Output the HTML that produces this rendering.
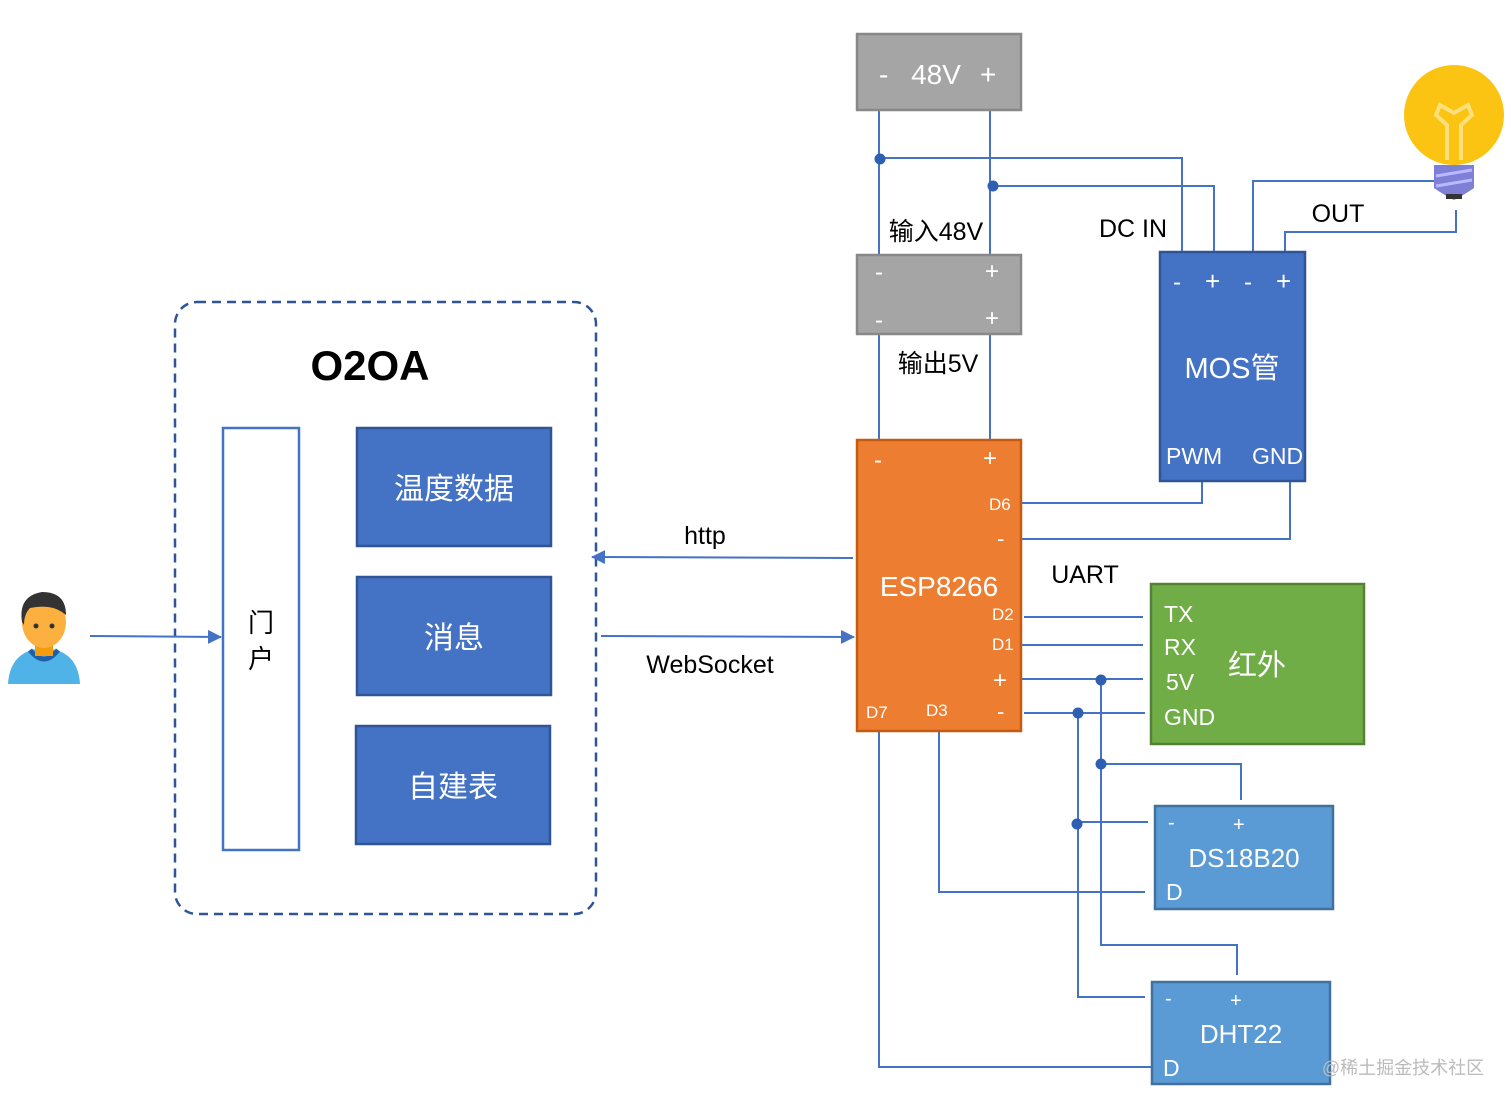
<!DOCTYPE html>
<html><head><meta charset="utf-8"><style>
body{margin:0;background:#fff;}
svg{display:block}
text{font-family:"Liberation Sans","Noto Sans CJK SC",sans-serif;}
</style></head><body>
<svg width="1512" height="1106" viewBox="0 0 1512 1106" xmlns="http://www.w3.org/2000/svg">
<defs>
<marker id="ar" markerWidth="14" markerHeight="14" refX="13" refY="7" orient="auto" markerUnits="userSpaceOnUse" viewBox="0 0 14 14"><path d="M0,0 L14,7 L0,14z" fill="#4472c4"/></marker>
</defs>
<rect x="175" y="302" width="421" height="612" rx="22" fill="none" stroke="#2f5597" stroke-width="2.5" stroke-dasharray="9,6"/>
<text x="370" y="380" font-size="42" font-weight="bold" text-anchor="middle" fill="#000">O2OA</text>
<rect x="223" y="428" width="76" height="422" fill="#fff" stroke="#4472c4" stroke-width="2.5"/>
<text x="261" y="632" font-size="26" text-anchor="middle">门</text>
<text x="261" y="668" font-size="26" text-anchor="middle">户</text>
<rect x="357" y="428" width="194" height="118" fill="#4472c4" stroke="#2f5597" stroke-width="2.5"/>
<text x="454" y="499" font-size="30" fill="#fff" text-anchor="middle">温度数据</text>
<rect x="357" y="577" width="194" height="118" fill="#4472c4" stroke="#2f5597" stroke-width="2.5"/>
<text x="454" y="648" font-size="30" fill="#fff" text-anchor="middle">消息</text>
<rect x="356" y="726" width="194" height="118" fill="#4472c4" stroke="#2f5597" stroke-width="2.5"/>
<text x="453" y="797" font-size="30" fill="#fff" text-anchor="middle">自建表</text>
<path d="M8,684 Q10,650 44,648 Q78,650 80,684z" fill="#4fb3e8"/>
<path d="M30,650 Q44,668 58,650" fill="none" stroke="#1f5fa8" stroke-width="5"/>
<rect x="35" y="640" width="18" height="16" fill="#f39c12"/>
<ellipse cx="44" cy="622" rx="22" ry="26" fill="#fbb040"/>
<path d="M22,622 Q18,596 42,592 Q66,592 66,615 L62,612 Q50,604 30,608 Q24,614 24,625z" fill="#333"/>
<circle cx="36" cy="626" r="2.5" fill="#333"/><circle cx="52" cy="626" r="2.5" fill="#333"/>
<g stroke="#4472c4" stroke-width="2" fill="none">
<line x1="90" y1="636" x2="221" y2="637" marker-end="url(#ar)"/>
<line x1="853" y1="558" x2="592" y2="557" marker-end="url(#ar)"/>
<line x1="601" y1="636" x2="854" y2="637" marker-end="url(#ar)"/>
<line x1="879" y1="110" x2="879" y2="255"/>
<line x1="990" y1="110" x2="990" y2="255"/>
<polyline points="880,158 1182,158 1182,252"/>
<polyline points="993,186 1214,186 1214,252"/>
<polyline points="1253,252 1253,181 1440,181"/>
<polyline points="1285,252 1285,232 1456,232 1456,210"/>
<line x1="879" y1="334" x2="879" y2="440"/>
<line x1="990" y1="334" x2="990" y2="440"/>
<polyline points="1022,503 1202,503 1202,481"/>
<polyline points="1022,539 1290,539 1290,481"/>
<line x1="1024" y1="617" x2="1143" y2="617"/>
<line x1="1022" y1="645" x2="1143" y2="645"/>
<line x1="1022" y1="679" x2="1143" y2="679"/>
<line x1="1024" y1="713" x2="1145" y2="713"/>
<polyline points="1101,679 1101,945 1237,945 1237,975"/>
<polyline points="1101,764 1241,764 1241,800"/>
<polyline points="1078,713 1078,997 1145,997"/>
<line x1="1078" y1="822" x2="1148" y2="822"/>
<polyline points="939,731 939,892 1145,892"/>
<polyline points="879,731 879,1067 1152,1067"/>
</g>
<g fill="#2f5fb0">
<circle cx="880" cy="159" r="5.5"/><circle cx="993" cy="186" r="5.5"/>
<circle cx="1101" cy="680" r="5.5"/><circle cx="1078" cy="713" r="5.5"/>
<circle cx="1101" cy="764" r="5.5"/><circle cx="1077" cy="824" r="5.5"/>
</g>
<rect x="857" y="34" width="164" height="76" fill="#a5a5a5" stroke="#888" stroke-width="2.5"/>
<g fill="#fff">
<text x="879" y="84" font-size="28">-</text>
<text x="936" y="84" font-size="28" text-anchor="middle">48V</text>
<text x="980" y="84" font-size="28">+</text>
</g>
<rect x="857" y="255" width="164" height="79" fill="#a5a5a5" stroke="#888" stroke-width="2.5"/>
<text x="875" y="280" font-size="24" fill="#fff">-</text><text x="985" y="279" font-size="24" fill="#fff">+</text>
<text x="875" y="328" font-size="24" fill="#fff">-</text><text x="985" y="326" font-size="24" fill="#fff">+</text>
<text x="936" y="240" font-size="25" text-anchor="middle">输入48V</text>
<text x="938" y="372" font-size="25" text-anchor="middle">输出5V</text>
<rect x="857" y="440" width="164" height="291" fill="#ed7d31" stroke="#c55a11" stroke-width="2.5"/>
<g fill="#fff">
<text x="874" y="468" font-size="24">-</text><text x="983" y="466" font-size="24">+</text>
<text x="989" y="510" font-size="17">D6</text><text x="997" y="546" font-size="22">-</text>
<text x="939" y="596" font-size="28" text-anchor="middle">ESP8266</text>
<text x="992" y="620" font-size="17">D2</text><text x="992" y="650" font-size="17">D1</text>
<text x="993" y="688" font-size="24">+</text><text x="997" y="719" font-size="22">-</text>
<text x="866" y="718" font-size="17">D7</text><text x="926" y="716" font-size="17">D3</text>
</g>
<text x="1133" y="237" font-size="25" text-anchor="middle">DC IN</text>
<text x="1338" y="222" font-size="25" text-anchor="middle">OUT</text>
<text x="1085" y="583" font-size="25" text-anchor="middle">UART</text>
<text x="705" y="544" font-size="25" text-anchor="middle">http</text>
<text x="710" y="673" font-size="25" text-anchor="middle">WebSocket</text>
<rect x="1160" y="252" width="145" height="229" fill="#4472c4" stroke="#2f5597" stroke-width="2.5"/>
<g fill="#fff">
<text x="1173" y="290" font-size="24">-</text>
<text x="1205" y="290" font-size="26">+</text>
<text x="1244" y="290" font-size="24">-</text>
<text x="1276" y="290" font-size="26">+</text>
<text x="1232" y="378" font-size="29" text-anchor="middle">MOS管</text>
<text x="1166" y="464" font-size="23">PWM</text><text x="1252" y="464" font-size="23">GND</text>
</g>
<rect x="1151" y="584" width="213" height="160" fill="#70ad47" stroke="#548235" stroke-width="2.5"/>
<g fill="#fff">
<text x="1164" y="622" font-size="23">TX</text><text x="1164" y="655" font-size="23">RX</text>
<text x="1166" y="690" font-size="23">5V</text><text x="1164" y="725" font-size="23">GND</text>
<text x="1257" y="675" font-size="29" text-anchor="middle">红外</text>
</g>
<rect x="1155" y="806" width="178" height="103" fill="#5b9bd5" stroke="#41719c" stroke-width="2.5"/>
<g fill="#fff">
<text x="1168" y="829" font-size="20">-</text><text x="1233" y="831" font-size="20">+</text>
<text x="1244" y="867" font-size="26" text-anchor="middle">DS18B20</text>
<text x="1166" y="900" font-size="23">D</text>
</g>
<rect x="1152" y="982" width="178" height="102" fill="#5b9bd5" stroke="#41719c" stroke-width="2.5"/>
<g fill="#fff">
<text x="1165" y="1005" font-size="20">-</text><text x="1230" y="1007" font-size="20">+</text>
<text x="1241" y="1043" font-size="26" text-anchor="middle">DHT22</text>
<text x="1163" y="1076" font-size="23">D</text>
</g>
<text x="1403" y="1074" font-size="18" fill="#bbb" text-anchor="middle">@稀土掘金技术社区</text>
<ellipse cx="1454" cy="115" rx="50" ry="50" fill="#fbc312"/>
<path d="M1440,125 L1440,160 L1468,160 L1468,125z" fill="#fbc312"/>
<path d="M1447,160 L1447,125 L1436,115 L1440,105 L1454,113 L1468,105 L1472,115 L1461,125 L1461,160" fill="none" stroke="#ffe07a" stroke-width="4"/>
<path d="M1434,165 L1474,165 L1474,188 Q1464,195 1454,200 Q1444,195 1434,188z" fill="#7f7fd8"/>
<line x1="1436" y1="176" x2="1472" y2="170" stroke="#b9b9ff" stroke-width="3"/>
<line x1="1436" y1="186" x2="1472" y2="180" stroke="#b9b9ff" stroke-width="3"/>
<rect x="1446" y="194" width="16" height="5" fill="#333"/>
</svg>
</body></html>
